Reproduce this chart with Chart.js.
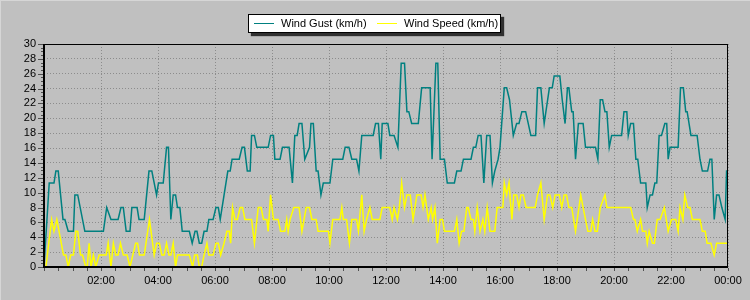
<!DOCTYPE html>
<html>
<head>
<meta charset="utf-8">
<script src="https://cdn.jsdelivr.net/npm/chart.js@4"></script>
<style>
  html, body { margin:0; padding:0; background:#c0c0c0; }
  #wrap { position:relative; width:750px; height:300px; overflow:hidden; }
  canvas { position:absolute; left:0; top:0; }
  #legend { position:absolute; left:248px; top:14px; width:251px; height:17px; background:#fff; border:1px solid #000;
            box-shadow:3px 3px 1px #303030; font-family:'Liberation Sans', Arial, sans-serif; font-size:11px; }
  .sw { position:absolute; top:8px; width:20px; height:0; border-top:1px solid; }
  .lbl { position:absolute; top:2px; color:#000; white-space:nowrap; line-height:13px; }
</style>
</head>
<body>
<div id="wrap">
  <canvas id="c" width="750" height="300"></canvas>
  <div id="legend"></div>
</div>
<script>
// ---- data (times in minutes since 00:00) ----
const seriesNames = ["Wind Gust (km/h)", "Wind Speed (km/h)"];
const seriesColors = ["#008080", "#ffff00"];
const xTickLabels = ["00:00","02:00","04:00","06:00","08:00","10:00","12:00","14:00","16:00","18:00","20:00","22:00","00:00"];
const yTicks = [0,2,4,6,8,10,12,14,16,18,20,22,24,26,28,30];

const gustTimes = [0,11,21,25,30,40,44,51,62,65,
71,86,125,132,141,156,162,167,173,181,
185,196,200,211,221,227,237,241,251,258,
262,267,272,277,281,286,291,306,312,318,
322,327,332,337,343,347,356,362,367,371,
387,392,396,411,417,422,428,434,437,443,
448,472,477,483,486,497,502,516,523,528,
533,537,543,549,559,562,567,573,577,583,
588,602,608,629,634,642,648,658,663,669,
693,698,704,709,712,724,728,737,745,752,
759,764,768,774,788,795,813,817,825,829,
834,843,849,864,869,878,883,899,904,909,
914,920,926,932,939,944,949,956,960,969,
974,980,988,995,1000,1006,1014,1025,1035,1039,
1046,1053,1064,1070,1074,1086,1091,1097,1102,1105,
1111,1114,1119,1125,1135,1140,1161,1166,1171,1176,
1181,1185,1190,1195,1216,1221,1227,1230,1235,1241,
1246,1250,1256,1267,1270,1276,1281,1286,1290,1295,
1300,1307,1311,1314,1318,1335,1340,1346,1351,1354,
1362,1375,1381,1386,1397,1402,1406,1411,1416,1421,
1427,1434,1437,1440];
const gustValues = [0,11.3,11.3,12.9,12.9,6.4,6.4,4.8,4.8,9.7,
9.7,4.8,4.8,8.0,6.4,6.4,8.0,8.0,4.8,4.8,
8.0,8.0,6.4,6.4,12.9,12.9,9.7,11.3,11.3,16.1,
16.1,6.4,9.7,9.7,8.0,8.0,4.8,4.8,3.2,4.8,
4.8,3.2,3.2,4.8,4.8,6.4,6.4,8.0,8.0,6.4,
12.9,12.9,14.5,14.5,16.1,16.1,12.9,12.9,17.7,17.7,
16.1,16.1,17.7,17.7,14.5,14.5,16.1,16.1,11.3,17.7,
17.7,19.3,19.3,14.5,16.1,19.3,19.3,12.9,12.9,9.7,
11.3,11.3,14.5,14.5,16.1,16.1,14.5,14.5,12.9,17.7,
17.7,19.3,19.3,14.5,19.3,19.3,17.7,17.7,16.1,27.4,
27.4,20.9,20.9,19.3,19.3,24.1,24.1,14.5,27.4,27.4,
14.5,14.5,11.3,11.3,12.9,12.9,14.5,14.5,16.1,16.1,
17.7,17.7,11.3,17.7,17.7,11.3,12.9,14.5,16.1,24.1,
24.1,22.5,17.7,19.3,19.3,20.9,20.9,17.7,17.7,24.1,
24.1,19.3,24.1,24.1,25.7,25.7,22.5,19.3,24.1,24.1,
20.9,20.9,14.5,19.3,19.3,16.1,16.1,14.5,22.5,22.5,
20.9,20.9,16.1,17.7,17.7,20.9,20.9,17.7,19.3,19.3,
14.5,14.5,11.3,11.3,8.0,9.7,9.7,11.3,11.3,17.7,
17.7,19.3,19.3,14.5,16.1,16.1,24.1,24.1,20.9,20.9,
17.7,17.7,14.5,12.9,12.9,14.5,14.5,6.4,9.7,9.7,
8.0,6.4,12.9,12.9];

const speedTimes = [0,4,16,21,27,41,46,51,56,62,
67,71,77,81,88,91,95,99,104,109,
116,131,135,141,146,151,156,161,167,175,
181,187,193,197,201,211,222,232,237,243,
248,253,258,263,267,272,277,281,306,313,
317,323,327,332,337,343,347,356,362,367,
372,379,385,390,393,397,402,407,413,418,
423,437,443,451,457,462,469,472,477,483,
493,498,507,511,514,518,526,537,543,552,
559,564,573,577,599,602,608,623,627,630,
637,643,648,658,662,669,674,679,686,691,
707,712,728,733,737,744,748,753,759,764,
771,777,785,794,798,802,809,815,818,823,
828,834,839,843,864,869,874,879,884,890,
893,899,904,907,912,918,924,928,933,939,
949,954,966,969,974,979,985,989,995,1000,
1004,1009,1015,1034,1039,1046,1053,1060,1065,1071,
1076,1085,1090,1095,1100,1105,1111,1119,1130,1135,
1145,1151,1155,1160,1165,1171,1181,1185,1235,1241,
1244,1249,1256,1260,1267,1270,1274,1281,1285,1291,
1297,1306,1314,1321,1330,1335,1339,1345,1349,1355,
1360,1365,1381,1386,1392,1396,1404,1411,1416,1440];
const speedValues = [0,0,6.4,4.8,6.4,1.6,1.6,0,1.6,1.6,
4.8,4.8,1.6,1.6,0,0,3.2,0,1.6,0,
1.6,1.6,3.2,0,3.2,1.6,1.6,3.2,1.6,1.6,
0,1.6,3.2,3.2,1.6,1.6,6.4,1.6,3.2,3.2,
1.6,1.6,3.2,1.6,1.6,3.2,0,1.6,1.6,0,
1.6,1.6,0,0,1.6,3.2,1.6,1.6,3.2,3.2,
1.6,3.2,4.8,4.8,3.2,8.0,6.4,6.4,8.0,8.0,
6.4,6.4,3.2,8.0,8.0,6.4,6.4,4.8,9.7,6.4,
6.4,4.8,4.8,6.4,4.8,6.4,8.0,8.0,4.8,8.0,
8.0,6.4,6.4,4.8,4.8,3.2,6.4,6.4,8.0,6.4,
6.4,3.2,6.4,6.4,4.8,9.7,4.8,6.4,8.0,6.4,
6.4,8.0,8.0,6.4,8.0,6.4,8.0,11.3,8.0,9.7,
9.7,6.4,9.7,9.7,8.0,9.7,6.4,8.0,6.4,8.0,
3.2,6.4,6.4,4.8,4.8,6.4,3.2,4.8,4.8,8.0,
8.0,6.4,6.4,4.8,8.0,4.8,6.4,4.8,8.0,4.8,
4.8,8.0,8.0,11.3,9.7,11.3,6.4,9.7,9.7,8.0,
9.7,9.7,8.0,8.0,9.7,11.3,6.4,9.7,9.7,8.0,
9.7,9.7,8.0,9.7,9.7,8.0,8.0,4.8,9.7,8.0,
4.8,4.8,6.4,4.8,4.8,8.0,9.7,8.0,8.0,6.4,
6.4,4.8,6.4,4.8,4.8,3.2,4.8,3.2,3.2,6.4,
6.4,8.0,4.8,6.4,6.4,4.8,8.0,6.4,9.7,8.0,
8.0,6.4,6.4,4.8,4.8,3.2,3.2,1.6,3.2,3.2];

// ---- build ----
const toPts = (ts, vs) => ts.map((t, i) => ({ x: t, y: vs[i] }));
const FONT = "'Liberation Sans', Arial, sans-serif";

const framePlugin = {
  id: 'frame',
  beforeDraw(chart) {
    const ctx = chart.ctx;
    ctx.save();
    ctx.fillStyle = '#c0c0c0';
    ctx.fillRect(0, 0, chart.width, chart.height);
    ctx.fillStyle = '#d6d6d6';
    ctx.fillRect(0, 0, chart.width, 1);
    ctx.fillRect(0, 0, 1, chart.height);
    ctx.restore();
  },
  afterDraw(chart) {
    const ctx = chart.ctx;
    const a = chart.chartArea;
    const xs = chart.scales.x, ys = chart.scales.y;
    ctx.save();
    ctx.fillStyle = '#000';
    ctx.fillRect(a.left, a.top, a.right - a.left, 1);
    ctx.fillRect(a.right - 1, a.top, 1, a.bottom - a.top);
    ctx.fillRect(a.left - 1, a.top, 2, a.bottom - a.top + 1);
    ctx.fillRect(a.left - 1, a.bottom - 1, a.right - a.left + 1, 2);
    ctx.fillStyle = '#505050';
    for (let v = ys.min; v <= ys.max + 1e-9; v += 0.5) {
      const y = Math.round(ys.getPixelForValue(v));
      const major = Math.abs(v % 2) < 1e-9;
      const len = major ? 5 : 2;
      ctx.fillRect(a.left - 1 - len, y, len, 1);
    }
    for (let m = xs.min; m <= xs.max; m += 30) {
      const x = Math.round(xs.getPixelForValue(m));
      ctx.fillRect(x, a.bottom + 1, 1, 3);
    }
    ctx.restore();
  }
};

new Chart(document.getElementById('c'), {
  type: 'line',
  data: {
    datasets: [
      { label: seriesNames[0], data: toPts(gustTimes, gustValues), borderColor: seriesColors[0],
        borderWidth: 1.5, pointRadius: 0, tension: 0, fill: false },
      { label: seriesNames[1], data: toPts(speedTimes, speedValues), borderColor: seriesColors[1],
        borderWidth: 1.5, pointRadius: 0, tension: 0, fill: false }
    ]
  },
  options: {
    responsive: false,
    animation: false,
    devicePixelRatio: 1,
    layout: { padding: { top: 44, right: 22, left: 0, bottom: 0 } },
    plugins: { legend: { display: false }, tooltip: { enabled: false } },
    scales: {
      x: {
        type: 'linear', min: 0, max: 1440,
        afterFit: s => { s.height = 33; },
        afterBuildTicks: s => { s.ticks = xTickLabels.map((_, i) => ({ value: i * 120 })); },
        ticks: {
          autoSkip: false, maxRotation: 0, padding: 7, color: '#000',
          font: { family: FONT, size: 11 },
          callback: (v, i) => (i === 0 ? '' : xTickLabels[i])
        },
        grid: { color: '#8c8c8c', drawTicks: false, lineWidth: 1 },
        border: { display: false, dash: [1, 2] }
      },
      y: {
        min: 0, max: 30,
        afterFit: s => { s.width = 44; },
        afterBuildTicks: s => { s.ticks = yTicks.map(v => ({ value: v })); },
        ticks: { autoSkip: false, padding: 8, color: '#000', font: { family: FONT, size: 11 } },
        grid: { color: '#8c8c8c', drawTicks: false, lineWidth: 1 },
        border: { display: false, dash: [1, 2] }
      }
    }
  },
  plugins: [framePlugin]
});

// legend (HTML)
const leg = document.getElementById('legend');
const swatchX = [5, 128];
const labelX = [32, 155];
seriesNames.forEach((name, i) => {
  const sw = document.createElement('span');
  sw.className = 'sw';
  sw.style.borderTopColor = seriesColors[i];
  sw.style.left = swatchX[i] + 'px';
  const lb = document.createElement('span');
  lb.className = 'lbl';
  lb.style.left = labelX[i] + 'px';
  lb.textContent = name;
  leg.appendChild(sw);
  leg.appendChild(lb);
});
</script>
</body>
</html>
